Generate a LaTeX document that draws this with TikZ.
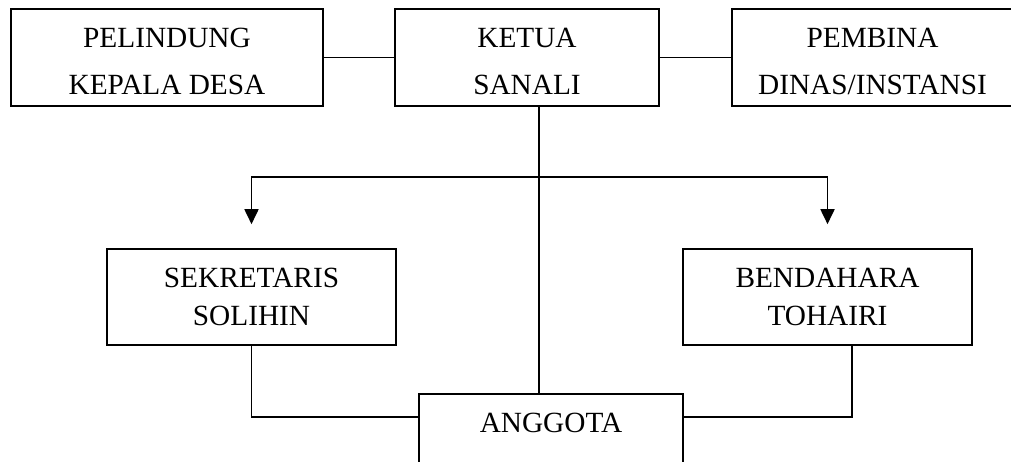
\documentclass[tikz,border=0pt]{standalone}
\usepackage{fontspec}
\setmainfont{Liberation Serif}
\usetikzlibrary{arrows.meta}
\tikzset{
  box/.style={draw, line width=1.6pt, inner sep=0pt, align=center},
  topbox/.style={box, minimum width=#1, minimum height=97pt, font={\fontsize{29.3}{47.5}\selectfont}},
  midbox/.style={box, minimum width=#1, minimum height=96pt, font={\fontsize{29.3}{38.5}\selectfont}},
  link/.style={line width=1.6pt},
  arrowlink/.style={line width=1.8pt, -{Triangle[width=14pt,length=15pt]}, shorten >=24pt}
}
\newcommand{\upstrut}{\rule{0pt}{27pt}}
\begin{document}
\begin{tikzpicture}[x=1pt,y=1pt]
\clip (0,0) rectangle (1011,-462);
\fill[white] (0,0) rectangle (1011,-462);
\node[topbox=312pt] (pelindung) at (167,-57.5) {\upstrut PELINDUNG\\KEPALA DESA};
\node[topbox=264pt] (ketua) at (527,-57.5) {\upstrut KETUA\\SANALI};
\node[topbox=281pt] (pembina) at (872.5,-57.5) {\upstrut PEMBINA\\DINAS/INSTANSI};
\node[midbox=289pt] (sek) at (251.5,-297) {SEKRETARIS\\SOLIHIN};
\node[midbox=289pt] (bend) at (827.5,-297) {BENDAHARA\\TOHAIRI};
\node[box, anchor=north, minimum width=264pt, text height=39pt, text depth=60pt,
      font={\fontsize{29.3}{35}\selectfont}] (anggota) at (551,-393) {ANGGOTA};
\coordinate (split) at (539,-177);
\coordinate (mem) at (551,-417);
\coordinate (bj) at (852,-417);
\draw[link] (pelindung.east) -- (ketua.west);
\draw[link] (ketua.east) -- (pembina.west);
\draw[link] (split |- ketua.south) -- (split |- anggota.north);
\draw[arrowlink] (split) -| (sek.north);
\draw[arrowlink] (split) -| (bend.north);
\draw[link] (sek.south) |- (mem -| anggota.west);
\draw[link] (bj |- bend.south) -- (bj) -- (mem -| anggota.east);
\end{tikzpicture}
\end{document}
